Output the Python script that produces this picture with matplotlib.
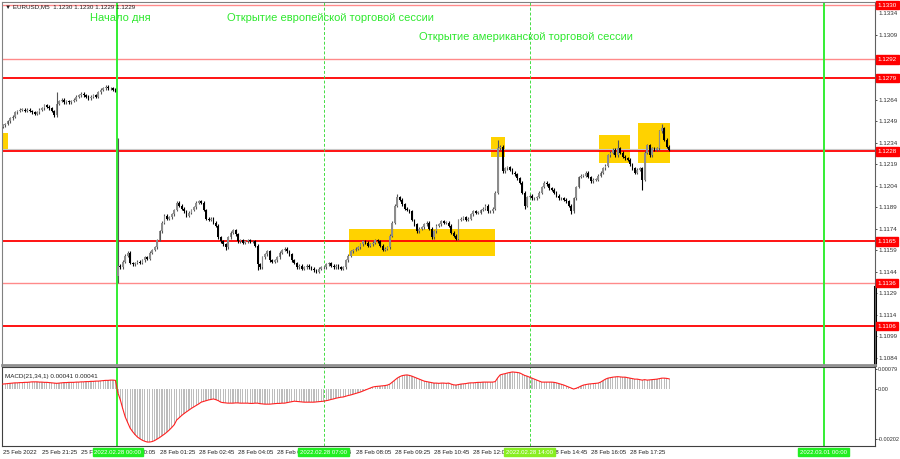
import matplotlib
matplotlib.use('Agg')
import matplotlib.pyplot as plt
import matplotlib.transforms as mtransforms
import numpy as np

plt.rcParams['font.family'] = ['Liberation Sans', 'DejaVu Sans']

# EURUSD M5 closes, in 0.0001 units (25 Feb 20:05 .. 23:55)
fri_close = [11246, 11247, 11249, 11251, 11252, 11255, 11256, 11257, 11257, 11256,
             11257, 11256, 11255, 11254, 11255, 11257, 11258, 11260, 11259, 11258,
             11256, 11253, 11261, 11263, 11264, 11262, 11263, 11262, 11263, 11264,
             11266, 11267, 11268, 11267, 11266, 11265, 11266, 11267, 11266, 11269,
             11271, 11272, 11273, 11272, 11272, 11271, 11270]
# 28 Feb 00:00 .. 18:45
mon_close = [11148, 11147, 11151, 11155, 11157, 11150, 11149, 11150, 11151, 11150,
             11152, 11154, 11153, 11157, 11159, 11161, 11166, 11172, 11178, 11183,
             11181, 11182, 11184, 11187, 11192, 11190, 11188, 11186, 11183, 11185,
             11187, 11189, 11192, 11193, 11192, 11187, 11181, 11180, 11181, 11178,
             11176, 11168, 11165, 11163, 11161, 11168, 11171, 11173, 11170, 11165,
             11166, 11164, 11165, 11166, 11165, 11165, 11162, 11149, 11147, 11154,
             11156, 11158, 11152, 11151, 11152, 11154, 11157, 11159, 11160, 11158,
             11156, 11152, 11150, 11147, 11148, 11146, 11147, 11148, 11147, 11146,
             11145, 11144, 11146, 11147, 11147, 11149, 11150, 11148, 11147, 11148,
             11147, 11146, 11147, 11152, 11155, 11158, 11159, 11160, 11161, 11163,
             11165, 11164, 11162, 11163, 11164, 11166, 11165, 11162, 11159, 11160,
             11161, 11169, 11178, 11190, 11196, 11194, 11191, 11188, 11187, 11186,
             11180, 11177, 11172, 11174, 11175, 11177, 11178, 11174, 11168, 11172,
             11176, 11177, 11179, 11178, 11178, 11176, 11171, 11169, 11167, 11180,
             11181, 11182, 11180, 11181, 11184, 11186, 11185, 11185, 11187, 11188,
             11190, 11186, 11186, 11188, 11199, 11230, 11231, 11214, 11216, 11217,
             11215, 11213, 11212, 11209, 11206, 11199, 11190, 11196, 11197, 11195,
             11195, 11196, 11199, 11203, 11206, 11205, 11202, 11201, 11199, 11197,
             11195, 11195, 11194, 11193, 11190, 11186, 11195, 11203, 11210, 11211,
             11211, 11213, 11210, 11207, 11208, 11208, 11211, 11213, 11216, 11218,
             11225, 11227, 11229, 11225, 11230, 11227, 11224, 11223, 11222, 11219,
             11216, 11213, 11215, 11216, 11208, 11227, 11232, 11225, 11230, 11229,
             11230, 11242, 11244, 11236, 11231, 11229]
mon_open = 11141
wick_high = {22: 11269, 47: 11237, 161: 11198, 202: 11236, 251: 11236, 269: 11247}
wick_low = {47: 11136, 91: 11159, 104: 11145, 213: 11188, 232: 11184, 261: 11201}

# MACD(21,34,1), in 0.00001 units
fri_macd = [20, 21, 22, 23, 24, 25, 25, 26, 26, 27, 27, 28, 29, 29, 29, 28, 28, 27, 27, 26,
            25, 24, 23, 24, 25, 26, 26, 27, 27, 27, 28, 28, 29, 29, 30, 30, 31, 31, 32, 32,
            33, 34, 35, 35, 36, 36, 35]
mon_macd = [-15, -44, -80, -113, -136, -158, -172, -184, -194, -201,
            -207, -211, -214, -214, -212, -208, -202, -196, -189, -182,
            -174, -165, -155, -144, -125, -116, -107, -99, -92, -85,
            -78, -72, -66, -60, -53, -50, -47, -44, -42, -40,
            -43, -47, -53, -55, -56, -57, -57, -57, -56, -56,
            -57, -57, -57, -57, -58, -58, -57, -57, -59, -60,
            -61, -61, -61, -60, -59, -58, -58, -57, -57, -55,
            -53, -51, -49, -50, -51, -52, -53, -53, -53, -53,
            -53, -52, -51, -50, -49, -47, -45, -42, -40, -37,
            -35, -33, -32, -29, -26, -24, -21, -18, -15, -12,
            -8, -4, 0, 4, 8, 10, 11, 12, 13, 14,
            16, 20, 28, 36, 44, 50, 54, 56, 57, 55,
            52, 48, 44, 40, 36, 32, 30, 28, 26, 24,
            24, 23, 24, 24, 23, 24, 20, 17, 16, 18,
            20, 21, 22, 24, 25, 25, 26, 27, 27, 28,
            28, 28, 28, 28, 30, 45, 57, 60, 62, 65,
            67, 69, 68, 67, 65, 60, 55, 52, 48, 44,
            40, 36, 32, 28, 28, 28, 28, 28, 27, 25,
            22, 19, 16, 12, 8, 4, 0, 3, 7, 12,
            16, 18, 20, 21, 22, 23, 24, 28, 34, 40,
            44, 46, 48, 49, 50, 49, 48, 48, 46, 44,
            42, 40, 40, 38, 36, 38, 36, 37, 38, 39,
            40, 42, 44, 44, 43, 41]

levels = [1.1330, 1.1292, 1.1279, 1.1228, 1.1165, 1.1136, 1.1106]
levels_light = [True, True, False, False, False, True, False]
# yellow zones: bar from, bar to, price low, price high
zones = [(0, 2.0, 1.12288, 1.12407), (141.2, 200.8, 1.11548, 1.11737),
         (199.2, 204.9, 1.12239, 1.12379), (243.3, 255.9, 1.12197, 1.12390),
         (259.2, 272.2, 1.12197, 1.12477)]
price_ticks = [1.1309, 1.1294, 1.1279, 1.1264, 1.1249, 1.1234, 1.1219, 1.1204,
               1.1189, 1.1174, 1.1159, 1.1144, 1.1129, 1.1114, 1.1099, 1.1084]
macd_ticks = [0.00079, 0.0, -0.00202]
macd_tick_labels = ['0.00079', '0.00', '-0.00202']
day_start, eu_open, us_open, next_day = 47, 131, 215, 335
time_labels = [(0, '25 Feb 2022'), (16, '25 Feb 21:25'), (32, '25 Feb 22:45'),
               (48, '28 Feb 00:05'), (64, '28 Feb 01:25'), (80, '28 Feb 02:45'),
               (96, '28 Feb 04:05'), (112, '28 Feb 05:25'), (128, '28 Feb 06:45'),
               (144, '28 Feb 08:05'), (160, '28 Feb 09:25'), (176, '28 Feb 10:45'),
               (192, '28 Feb 12:05'), (208, '28 Feb 13:25'), (224, '28 Feb 14:45'),
               (240, '28 Feb 16:05'), (256, '28 Feb 17:25')]
time_marks = [(day_start, '2022.02.28 00:00', '#22ee22'), (eu_open, '2022.02.28 07:00', '#22ee22'),
              (us_open, '2022.02.28 14:00', '#88ee22'), (next_day, '2022.03.01 00:00', '#22ee22')]

W, H = 900, 459
fig = plt.figure(figsize=(9, 4.59), dpi=100)


def box(l, t, r, b):
    return [l / W, 1 - b / H, (r - l) / W, (b - t) / H]


ax = fig.add_axes(box(2, 2, 875, 365))
axm = fig.add_axes(box(2, 367, 875, 446), sharex=ax)

closes = np.array(fri_close + mon_close) / 10000
n = len(closes)
opens = np.r_[closes[0] - 0.0001, closes[:-1]]
opens[len(fri_close)] = mon_open / 10000
highs = np.maximum(opens, closes) + 0.0001
lows = np.minimum(opens, closes) - 0.0001
for k, v in wick_high.items():
    highs[k] = v / 10000
for k, v in wick_low.items():
    lows[k] = v / 10000
x = np.arange(n)
up = closes >= opens
wick_col = np.where(up, '#555555', '#000000')
body_col = np.where(up, '#8c8c8c', '#000000')
ax.vlines(x, lows, highs, colors=wick_col, lw=0.8, zorder=3)
body_h = np.maximum(np.abs(closes - opens), 0.00003)
ax.bar(x, body_h, bottom=np.minimum(opens, closes), width=0.7, color=body_col, zorder=4)

for x0, x1, y0, y1 in zones:
    ax.add_patch(plt.Rectangle((x0, y0), x1 - x0, y1 - y0, color='#ffd200', lw=0, zorder=1))

ytr = mtransforms.blended_transform_factory(ax.transAxes, ax.transData)
for lv, light in zip(levels, levels_light):
    ax.axhline(lv, color='#ff8a8a' if light else '#ff0000', lw=1.0 if light else 1.3, zorder=2)
ax.axhline(1.12295, color='#c8c8c8', lw=0.8, zorder=1.5)

for a in (ax, axm):
    for xv in (day_start - 0.4, next_day):
        a.axvline(xv, color='#33ee33', lw=1.4, zorder=2.5)
    for xv in (eu_open, us_open):
        a.axvline(xv, color='#44dd44', lw=0.7, ls=(0, (3, 2)), zorder=2)

ax.set_xlim(-0.3, 356.0)
ax.set_ylim(1.10788, 1.13321)
ax.yaxis.tick_right()
ax.set_yticks(price_ticks)
ax.set_yticklabels([f'{t:.4f}' for t in price_ticks])
ax.tick_params(axis='y', labelsize=4.5, length=1.5, width=0.6, pad=1.0, colors='#303030')
ax.tick_params(axis='x', bottom=False, labelbottom=False)
ax.text(1.004, 0.967, '1.1334', transform=ax.transAxes, fontsize=4.5, va='center',
        color='#303030')
for lv in levels:
    ax.text(1.003, lv, f'{lv:.4f}', transform=ytr, fontsize=4.5, color='white',
            va='center', ha='left', clip_on=False, zorder=10,
            bbox=dict(boxstyle='square,pad=0.3', fc='#ff0000', ec='#ff0000'))
ax.plot([1.0, 1.0], [1.10788, 1.1133], transform=ytr, color='black', lw=2.2, clip_on=False)

gc = '#2ee82e'
ax.text(35.5, 1.13209, 'Начало дня', color=gc, fontsize=8.0, va='center')
ax.text(91.4, 1.13209, 'Открытие европейской торговой сессии', color=gc,
        fontsize=8.0, va='center')
ax.text(169.8, 1.13077, 'Открытие американской торговой сессии', color=gc,
        fontsize=8.0, va='center')
ax.text(0.003, 0.988, '▼ EURUSD,M5  1.1230 1.1230 1.1229 1.1229', transform=ax.transAxes,
        fontsize=4.5, va='center', color='#202020')

for sp in ('left', 'top'):
    ax.spines[sp].set_color('#808080')
ax.spines['bottom'].set_color('#909090')
ax.spines['bottom'].set_linewidth(2)
ax.spines['right'].set_color('#606060')

macd = np.array(fri_macd + mon_macd) / 100000
axm.bar(x, macd, width=0.5, color='#bdbdbd', zorder=2)
axm.plot(x, macd, color='#ff2020', lw=0.8, zorder=3)
axm.set_ylim(-0.0023, 0.00089)
axm.yaxis.tick_right()
axm.set_yticks(macd_ticks)
axm.set_yticklabels(macd_tick_labels)
axm.tick_params(axis='y', labelsize=4.0, length=1.2, width=0.6, pad=0.5, colors='#303030')
axm.tick_params(axis='x', bottom=False, labelbottom=False)
axm.text(0.003, 0.88, 'MACD(21,34,1) 0.00041 0.00041', transform=axm.transAxes,
         fontsize=4.5, va='center', color='#202020')
for sp in axm.spines.values():
    sp.set_color('#404040')

ttr = mtransforms.blended_transform_factory(axm.transData, fig.transFigure)
ty = 1 - 452 / H
for k, s in time_labels:
    axm.text(k, ty, s, transform=ttr, fontsize=4.3, va='center', ha='left', color='#202020',
             clip_on=False)
for k, s, c in time_marks:
    axm.text(k, ty, s, transform=ttr, fontsize=4.3, va='center', ha='center', color='white',
             clip_on=False, zorder=10, bbox=dict(boxstyle='square,pad=0.3', fc=c, ec=c))

fig.savefig('out.png', dpi=100, facecolor='white')
